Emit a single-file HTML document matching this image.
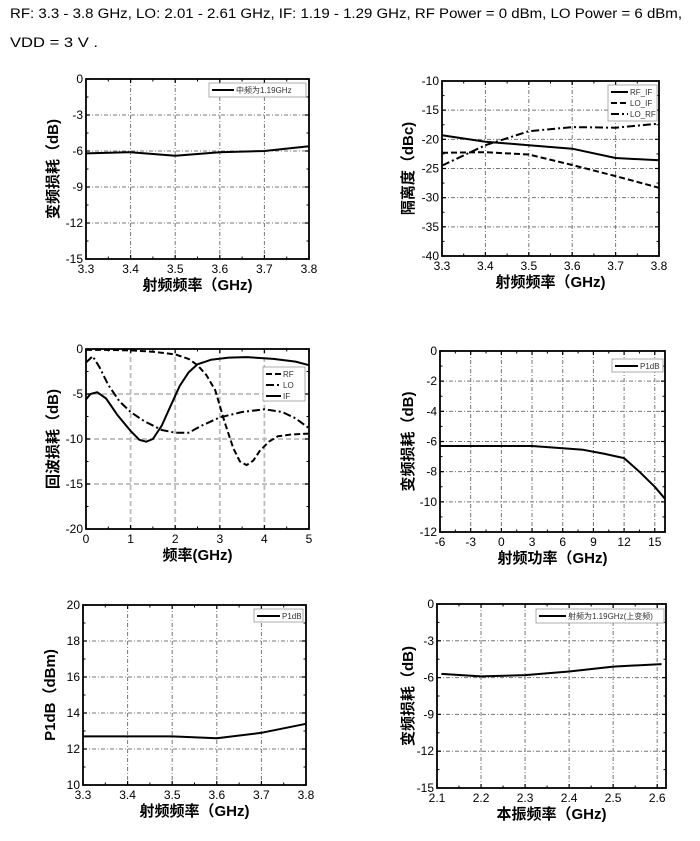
<!DOCTYPE html>
<html><head><meta charset="utf-8"><style>
body{margin:0;background:#fff;}
svg{display:block;}
</style></head><body>
<svg id="s" width="700" height="841" xmlns="http://www.w3.org/2000/svg" font-family="Liberation Sans, Noto Sans CJK SC, sans-serif">
<text x="10" y="18" font-size="13.5" textLength="672" lengthAdjust="spacingAndGlyphs">RF: 3.3 - 3.8 GHz, LO: 2.01 - 2.61 GHz, IF: 1.19 - 1.29 GHz, RF Power = 0 dBm, LO Power = 6 dBm,</text>
<text x="10" y="47" font-size="13.5" textLength="88" lengthAdjust="spacingAndGlyphs">VDD = 3 V .</text>
</svg>
<script>
var S=document.getElementById('s'),NS='http://www.w3.org/2000/svg';
function el(t,a,txt){var e=document.createElementNS(NS,t);for(var k in a)e.setAttribute(k,a[k]);if(txt!=null)e.textContent=txt;S.appendChild(e);return e;}
function chart(o){
 var L=o.box[0],R=o.box[1],T=o.box[2],B=o.box[3];
 var X=function(v){return L+(v-o.x0)/(o.x1-o.x0)*(R-L)};
 var Y=function(v){return B-(v-o.y0)/(o.y1-o.y0)*(B-T)};
 var gs=o.dashGrid?{stroke:'#bbb','stroke-width':1.8,'stroke-dasharray':'5,3'}:{stroke:'#777','stroke-width':1,'stroke-dasharray':'4,2,1,2'};
 o.xt.forEach(function(v,i){var x=X(v);
  if(i>0&&i<o.xt.length-1||(o.gridEnds&&i==o.xt.length-1&&x<R-1)){var a=Object.assign({x1:x,x2:x,y1:T,y2:B},gs);el('line',a);}
  el('text',{x:x,y:B+14,'font-size':12,'text-anchor':'middle'},o.xl?o.xl[i]:v);
  el('line',{x1:x,x2:x,y1:B,y2:B-4,stroke:'#000','stroke-width':1.2});
  el('line',{x1:x,x2:x,y1:T,y2:T+4,stroke:'#000','stroke-width':1.2});
  if(i<o.xt.length-1){var xm=(x+X(o.xt[i+1]))/2;if(xm<R){el('line',{x1:xm,x2:xm,y1:B,y2:B-2.5,stroke:'#000'});el('line',{x1:xm,x2:xm,y1:T,y2:T+2.5,stroke:'#000'});}}
 });
 o.yt.forEach(function(v,i){var y=Y(v);
  if(i>0&&i<o.yt.length-1){var a=Object.assign({x1:L,x2:R,y1:y,y2:y},gs);el('line',a);}
  el('text',{x:L-3,y:y+4,'font-size':12,'text-anchor':'end'},v);
  el('line',{x1:L,x2:L+4,y1:y,y2:y,stroke:'#000','stroke-width':1.2});
  el('line',{x1:R,x2:R-4,y1:y,y2:y,stroke:'#000','stroke-width':1.2});
  if(i<o.yt.length-1){var ym=(y+Y(o.yt[i+1]))/2;el('line',{x1:L,x2:L+2.5,y1:ym,y2:ym,stroke:'#000'});el('line',{x1:R,x2:R-2.5,y1:ym,y2:ym,stroke:'#000'});}
 });
 o.series.forEach(function(s){
  var d=s.p.map(function(p,i){return (i?'L':'M')+X(p[0]).toFixed(1)+','+Y(p[1]).toFixed(1)}).join('');
  var a={d:d,fill:'none',stroke:'#000','stroke-width':2,'stroke-linejoin':'round'};
  if(s.dash)a['stroke-dasharray']=s.dash;el('path',a);
 });
 el('rect',{x:L,y:T,width:R-L,height:B-T,fill:'none',stroke:'#000','stroke-width':1.8});
 var lg=o.leg;el('rect',{x:lg[0],y:lg[1],width:lg[2],height:lg[3],fill:'#fff',stroke:'#999','stroke-width':0.8});
 o.series.forEach(function(s,i){var y=lg[1]+7+i*11;
  var a={x1:lg[0]+3,x2:lg[0]+lg[4],y1:y,y2:y,stroke:'#000','stroke-width':2};if(s.dash)a['stroke-dasharray']=s.dash;el('line',a);
  el('text',{x:lg[0]+lg[4]+2,y:y+3,'font-size':8,fill:'#333'},s.n);});
 el('text',{x:(L+R)/2,y:B+31,'font-size':15,'font-weight':'bold','text-anchor':'middle'},o.xlab);
 var cy=(T+B)/2;el('text',{x:0,y:0,'font-size':15,'font-weight':'bold','text-anchor':'middle',transform:'translate('+o.ylx+','+cy+') rotate(-90)'},o.ylab);
}
chart({box:[86,309,79,259],x0:3.3,x1:3.8,y0:-15,y1:0,xt:[3.3,3.4,3.5,3.6,3.7,3.8],yt:[-15,-12,-9,-6,-3,0],
 series:[{n:'中频为1.19GHz',p:[[3.3,-6.2],[3.4,-6.1],[3.5,-6.4],[3.6,-6.1],[3.7,-6.0],[3.8,-5.6]]}],
 leg:[209,83,97,14,25],xlab:'射频频率（GHz)',ylab:'变频损耗（dB)',ylx:58});
chart({box:[442,659,81,256],x0:3.3,x1:3.8,y0:-40,y1:-10,xt:[3.3,3.4,3.5,3.6,3.7,3.8],yt:[-40,-35,-30,-25,-20,-15,-10],
 series:[{n:'RF_IF',p:[[3.3,-19.3],[3.4,-20.4],[3.5,-21],[3.6,-21.6],[3.7,-23.2],[3.8,-23.6]]},
 {n:'LO_IF',dash:'6,3',p:[[3.3,-22.3],[3.4,-22.2],[3.5,-22.6],[3.6,-24.4],[3.7,-26.3],[3.8,-28.3]]},
 {n:'LO_RF',dash:'8,3,2,3',p:[[3.3,-24.5],[3.4,-21],[3.5,-18.6],[3.6,-17.9],[3.7,-18],[3.8,-17.3]]}],
 leg:[608,85,49,36,20],xlab:'射频频率（GHz)',ylab:'隔离度（dBc)',ylx:413});
chart({box:[86,309,349,529],x0:0,x1:5,y0:-20,y1:0,xt:[0,1,2,3,4,5],yt:[-20,-15,-10,-5,0],dashGrid:true,
 series:[{n:'RF',dash:'6,3',p:[[0,-0.1],[0.5,-0.1],[1,-0.15],[1.5,-0.3],[2,-0.6],[2.3,-1.1],[2.5,-1.8],[2.7,-2.9],[2.9,-4.6],[3.1,-8],[3.3,-11],[3.45,-12.5],[3.6,-12.9],[3.75,-12.4],[3.9,-11.3],[4.1,-10.3],[4.3,-9.7],[4.6,-9.5],[5,-9.4]]},
 {n:'LO',dash:'8,3,2,3',p:[[0,-1.5],[0.15,-0.8],[0.3,-2],[0.5,-4],[0.75,-5.8],[1,-7],[1.3,-8],[1.7,-9],[2,-9.3],[2.3,-9.3],[2.6,-8.5],[3,-7.6],[3.5,-7],[4,-6.7],[4.4,-7],[4.7,-7.7],[5,-8.8]]},
 {n:'IF',p:[[0,-5.6],[0.1,-5],[0.25,-4.8],[0.45,-5.5],[0.7,-7.3],[1,-9.1],[1.2,-10.1],[1.35,-10.3],[1.5,-10],[1.7,-8.5],[1.9,-6.3],[2.1,-4.1],[2.3,-2.6],[2.5,-1.7],[2.8,-1.2],[3.2,-0.95],[3.6,-0.9],[4.2,-1.1],[4.7,-1.4],[5,-1.8]]}],
 leg:[263,367,42,34,18],xlab:'频率(GHz)',ylab:'回波损耗（dB)',ylx:58});
chart({box:[440,665,351,532],x0:-6,x1:16,y0:-12,y1:0,xt:[-6,-3,0,3,6,9,12,15],yt:[-12,-10,-8,-6,-4,-2,0],gridEnds:true,
 series:[{n:'P1dB',p:[[-6,-6.3],[-3,-6.3],[0,-6.3],[3,-6.3],[6,-6.45],[8,-6.55],[10,-6.8],[12,-7.1],[13.5,-8],[15,-9],[16,-9.8]]}],
 leg:[612,359,51,13,26],xlab:'射频功率（GHz)',ylab:'变频损耗（dB)',ylx:413});
chart({box:[83,306,605,785],x0:3.3,x1:3.8,y0:10,y1:20,xt:[3.3,3.4,3.5,3.6,3.7,3.8],yt:[10,12,14,16,18,20],
 series:[{n:'P1dB',p:[[3.3,12.7],[3.4,12.7],[3.5,12.7],[3.6,12.6],[3.7,12.9],[3.8,13.4]]}],
 leg:[254,609,49,13,26],xlab:'射频频率（GHz)',ylab:'P1dB（dBm)',ylx:55});
chart({box:[437,666,604,788],x0:2.1,x1:2.62,y0:-15,y1:0,xt:[2.1,2.2,2.3,2.4,2.5,2.6],yt:[-15,-12,-9,-6,-3,0],gridEnds:true,
 series:[{n:'射频为1.19GHz(上变频)',p:[[2.11,-5.7],[2.2,-5.9],[2.3,-5.8],[2.4,-5.5],[2.5,-5.1],[2.61,-4.9]]}],
 leg:[536,609,128,14,30],xlab:'本振频率（GHz)',ylab:'变频损耗（dB)',ylx:413});
</script>
</body></html>
